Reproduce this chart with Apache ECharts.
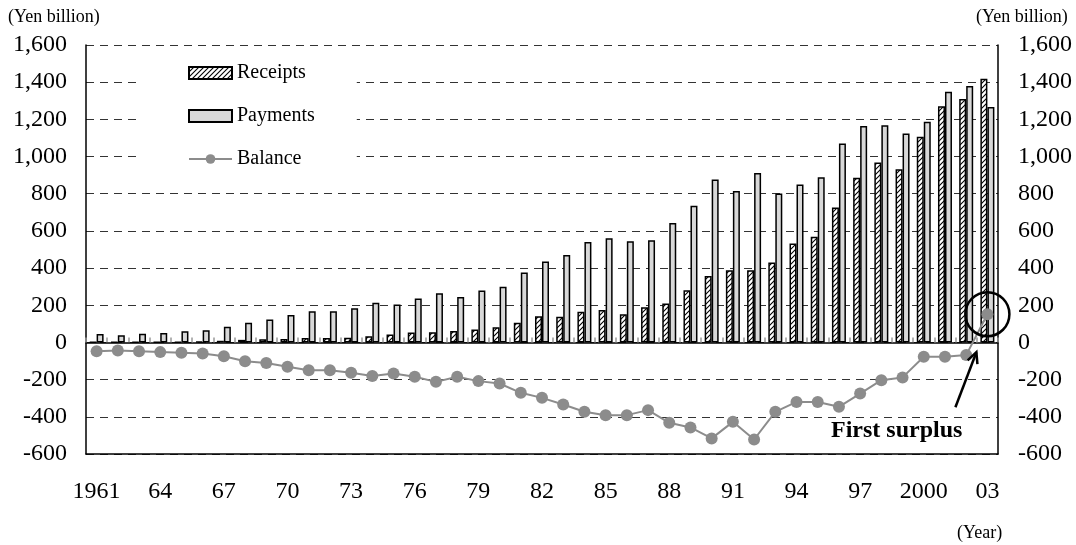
<!DOCTYPE html>
<html>
<head>
<meta charset="utf-8">
<script src="https://cdn.jsdelivr.net/npm/echarts@6/dist/echarts.min.js"></script>
<style>html,body{margin:0;padding:0;background:#fff}#c{width:1076px;height:545px}</style>
</head>
<body>
<div id="c"></div>
<script>
const years = ['1961','62','63','64','65','66','67','68','69','70','71','72','73','74','75','76','77','78','79','80','81','82','83','84','85','86','87','88','89','90','91','92','93','94','95','96','97','98','99','2000','01','02','03'];
const receipts = [1,2,2,3,3,4,9,14,17,19,24,24,25,34,43,54,55,61,70,82,106,141,138,165,174,152,190,210,281,358,389,389,430,532,568,726,886,968,932,1106,1271,1309,1418];
const payments = [45,39,47,51,60,65,84,106,124,148,168,168,184,213,204,237,264,244,280,299,376,436,470,540,561,545,550,642,735,877,814,912,801,850,888,1070,1164,1169,1124,1187,1348,1379,1267];
const balance = [-47,-43,-47,-52,-56,-59,-74,-101,-110,-131,-149,-149,-163,-181,-167,-185,-212,-185,-208,-221,-271,-298,-334,-373,-391,-391,-364,-432,-457,-516,-427,-522,-373,-320,-320,-346,-275,-203,-188,-77,-77,-68,152];
const yTicks = {min:-600, max:1600, interval:200};

const FONT = 'Liberation Serif';
function fmt(v){ return String(v).replace(/\B(?=(\d{3})+(?!\d))/g, ','); }

// hatch pattern
const pc = document.createElement('canvas');
pc.width = 5; pc.height = 5;
const g = pc.getContext('2d');
g.fillStyle = '#fff'; g.fillRect(0,0,5,5);
g.strokeStyle = '#000'; g.lineWidth = 1.1;
g.beginPath();
g.moveTo(-1,6); g.lineTo(6,-1);
g.moveTo(-1,1); g.lineTo(1,-1);
g.moveTo(4,6); g.lineTo(6,4);
g.stroke();

const chart = echarts.init(document.getElementById('c'), null, {renderer:'canvas'});
const yAxisBase = {
  type:'value', min:yTicks.min, max:yTicks.max, interval:yTicks.interval,
  axisLine:{show:true, lineStyle:{color:'#000', width:1.5}},
  axisTick:{show:false},
  axisLabel:{formatter:fmt, fontFamily:FONT, fontSize:24, color:'#000', margin:19}
};
chart.setOption({
  animation:false,
  grid:{left:86, right:78, top:45, bottom:91},
  legend:{
    orient:'vertical', left:140, top:55,
    itemWidth:43, itemHeight:12, itemGap:23,
    padding:[8,42,8,48], backgroundColor:'#fff',
    textStyle:{fontFamily:FONT, fontSize:20, color:'#000', lineHeight:20},
    data:[{name:'Receipts', icon:'rect'},{name:'Payments', icon:'rect'},{name:'Balance'}]
  },
  xAxis:[
    {type:'category', data:years, position:'bottom',
     axisLine:{onZero:false, lineStyle:{color:'#000', width:1.5}},
     axisTick:{show:false},
     axisLabel:{interval:2, margin:26, fontFamily:FONT, fontSize:24, color:'#000'}},
    {type:'category', data:years, position:'bottom',
     axisLine:{onZero:true, lineStyle:{color:'#000', width:1.5}},
     axisTick:{show:true, inside:true, length:5, interval:0, lineStyle:{color:'#999', width:1.5}},
     axisLabel:{show:false}}
  ],
  yAxis:[
    Object.assign({}, yAxisBase, {position:'left',
      splitLine:{show:true, lineStyle:{type:[8,6], color:'#333', width:1}}}),
    Object.assign({}, yAxisBase, {position:'right', splitLine:{show:false},
      axisLabel:Object.assign({}, yAxisBase.axisLabel, {margin:20})})
  ],
  graphic:[
    {type:'text', id:'yl', left:8, top:8, style:{text:'(Yen billion)', font:'18px "Liberation Serif"', fill:'#000'}},
    {type:'text', id:'yr', left:976, top:8, style:{text:'(Yen billion)', font:'18px "Liberation Serif"', fill:'#000'}},
    {type:'text', id:'yx', left:957, top:524, style:{text:'(Year)', font:'18px "Liberation Serif"', fill:'#000'}},
    {type:'text', id:'fs', left:831, top:419, style:{text:'First surplus', font:'bold 24px "Liberation Serif"', fill:'#000'}}
  ],
  series:[
    {name:'Receipts', type:'bar', xAxisIndex:0, yAxisIndex:0, data:receipts, barWidth:7, barGap:'0%',
     itemStyle:{color:{image:pc, repeat:'repeat'}, borderColor:'#000', borderWidth:1.5}},
    {name:'Payments', type:'bar', xAxisIndex:0, yAxisIndex:0, data:payments, barWidth:7, barGap:'0%',
     itemStyle:{color:'#d8d8d8', borderColor:'#000', borderWidth:1.5}},
    {name:'Balance', type:'line', xAxisIndex:0, yAxisIndex:0, data:balance, z:5,
     symbol:'circle', symbolSize:12, showSymbol:true,
     lineStyle:{color:'#8c8c8c', width:2}, itemStyle:{color:'#8c8c8c'}}
  ]
});

// annotation: circle + arrow around the first surplus
const last = years.length - 1;
const p = chart.convertToPixel({xAxisIndex:0, yAxisIndex:0}, [years[last], balance[last]]);
const tip = [p[0]-11, p[1]+38];
const tail = [p[0]-32, p[1]+93];
const dx = tip[0]-tail[0], dy = tip[1]-tail[1];
const L = Math.sqrt(dx*dx+dy*dy), ux = dx/L, uy = dy/L;
const ah = 12, ang = 0.45;
function rot(x,y,a){ return [x*Math.cos(a)-y*Math.sin(a), x*Math.sin(a)+y*Math.cos(a)]; }
const h1 = rot(-ux,-uy,ang), h2 = rot(-ux,-uy,-ang);
chart.setOption({graphic:[
  {type:'circle', id:'ring', shape:{cx:p[0], cy:p[1], r:22}, style:{fill:'none', stroke:'#000', lineWidth:2.5}, z:10},
  {type:'line', id:'ashaft', shape:{x1:tail[0], y1:tail[1], x2:tip[0], y2:tip[1]}, style:{stroke:'#000', lineWidth:2.5}, z:10},
  {type:'polyline', id:'ahead', shape:{points:[[tip[0]+h1[0]*ah, tip[1]+h1[1]*ah], tip, [tip[0]+h2[0]*ah, tip[1]+h2[1]*ah]]}, style:{stroke:'#000', lineWidth:2.5, fill:'none'}, z:10}
]});
</script>
</body>
</html>
